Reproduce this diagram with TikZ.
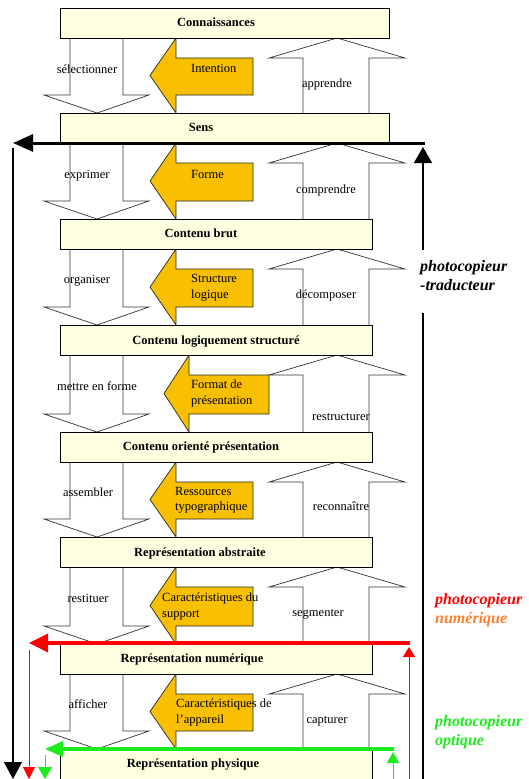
\documentclass[tikz,border=0pt]{standalone}
\usepackage{fontspec}
\setmainfont{Liberation Serif}
\usetikzlibrary{arrows.meta}
\definecolor{boxfill}{RGB}{255,255,226}
\definecolor{yel}{RGB}{248,192,0}
\definecolor{myred}{RGB}{255,0,0}
\definecolor{myorange}{RGB}{255,128,48}
\definecolor{mygreen}{RGB}{30,235,30}
\begin{document}
\begin{tikzpicture}[x=1pt,y=-1pt,
  levelbox/.style={draw=black, line width=0.8pt, fill=boxfill, inner sep=0pt, anchor=north west, minimum height=30pt},
  blockarrow/.style={draw=black!80, line width=0.7pt, fill=white, line join=miter},
  yarrow/.style={draw=black!85, line width=0.7pt, fill=yel},
  boxlabel/.style={font=\fontsize{12.5}{14}\selectfont\bfseries, inner sep=0pt, text height=9pt, text depth=3pt},
  lbl/.style={font=\fontsize{12.5}{14}\selectfont, inner sep=0pt, text height=9pt, text depth=3pt},
  ylbl/.style={lbl, anchor=west},
  sidelbl/.style={font=\fontsize{16}{18}\selectfont\bfseries\itshape, inner sep=0pt, anchor=west, text height=11pt, text depth=4pt},
]
\useasboundingbox (0,0) rectangle (529,779);

% white block arrows (down and up)
\foreach \b/\t in {38/113,143/219,249/325,355/432,462/537,567/644,674/749}{
  \draw[blockarrow] (70,\b) -- (70,{\t-18}) -- (44,{\t-18}) -- (97,\t) -- (149,{\t-18}) -- (123,{\t-18}) -- (123,\b);
  \draw[blockarrow] (303,\t) -- (303,{\b+20}) -- (269,{\b+20}) -- (337,\b) -- (405,{\b+20}) -- (369,{\b+20}) -- (369,\t);
}
% yellow arrows
\foreach \b/\t/\tx/\bx/\ex in {38/113/150/176/253,143/219/150/176/253,249/325/150/176/253,355/432/164/189/269,462/537/150/176/253,567/644/150/176/253,674/749/150/176/253}{
  \draw[yarrow] (\ex,{\b+20}) -- (\bx,{\b+20}) -- (\bx,\b) -- (\tx,{(\b+\t)/2}) -- (\bx,\t) -- (\bx,{\t-18}) -- (\ex,{\t-18}) -- cycle;
}

% level boxes
\node[levelbox, minimum width=329pt] (b1) at (60,8) {};
\node[levelbox, minimum width=329pt] (b2) at (60,113) {};
\node[levelbox, minimum width=312pt] (b3) at (60,219) {};
\node[levelbox, minimum width=312pt] (b4) at (60,325) {};
\node[levelbox, minimum width=312pt] (b5) at (60,432) {};
\node[levelbox, minimum width=312pt] (b6) at (60,537) {};
\node[levelbox, minimum width=312pt] (b7) at (60,644) {};
\node[levelbox, minimum width=312pt, minimum height=36pt] (b8) at (60,749) {};

\node[boxlabel] (t1) at (216,23) {Connaissances};
\node[boxlabel] (t2) at (201,128) {Sens};
\node[boxlabel] (t3) at (201,234) {Contenu brut};
\node[boxlabel] (t4) at (216,341) {Contenu logiquement structuré};
\node[boxlabel] (t5) at (201,447) {Contenu orienté présentation};
\node[boxlabel] (t6) at (200,553) {Représentation abstraite};
\node[boxlabel] (t7) at (192,659) {Représentation numérique};
\node[boxlabel] (t8) at (193,764) {Représentation physique};

% down arrow labels
\node[lbl] (d1) at (87,70) {sélectionner};
\node[lbl] (d2) at (87,175) {exprimer};
\node[lbl] (d3) at (87,280) {organiser};
\node[lbl] (d4) at (97,387) {mettre en forme};
\node[lbl] (d5) at (88,493) {assembler};
\node[lbl] (d6) at (88,599) {restituer};
\node[lbl] (d7) at (88,705) {afficher};

% up arrow labels
\node[lbl] (u1) at (327,84) {apprendre};
\node[lbl] (u2) at (326,190) {comprendre};
\node[lbl] (u3) at (326,295) {décomposer};
\node[lbl] (u4) at (341,417) {restructurer};
\node[lbl] (u5) at (341,507) {reconnaître};
\node[lbl] (u6) at (318,613) {segmenter};
\node[lbl] (u7) at (327,720) {capturer};

% yellow arrow labels
\node[ylbl] (y1) at (191,69) {Intention};
\node[ylbl] (y2) at (191,175) {Forme};
\node[ylbl] (y3a) at (191,279) {Structure};
\node[ylbl] (y3b) at (191,295) {logique};
\node[ylbl] (y4a) at (191,385) {Format de};
\node[ylbl] (y4b) at (191,401) {présentation};
\node[ylbl] (y5a) at (175,492) {Ressources};
\node[ylbl] (y5b) at (175,507) {typographique};
\node[ylbl] (y6a) at (162,598) {Caractéristiques du};
\node[ylbl] (y6b) at (162,614) {support};
\node[ylbl] (y7a) at (176,704) {Caractéristiques de};
\node[ylbl] (y7b) at (176,720) {l’appareil};

% black loop (photocopieur-traducteur)
\coordinate (BR) at (423,782);
\coordinate (BG1) at (423,313);
\coordinate (BG2) at (423,250);
\coordinate (BT) at (423,147);
\coordinate (BH) at (424.5,143);
\coordinate (BL) at (13,143);
\coordinate (BS) at (13,148);
\coordinate (BB) at (13,779);
\draw[line width=1.5pt] (BR) -- (BG1);
\draw[line width=1.5pt, -{Triangle[length=16pt,width=18pt]}] (BG2) -- (BT);
\draw[line width=3pt, -{Triangle[length=20pt,width=17pt]}] (BH) -- (BL);
\draw[line width=1.5pt, -{Triangle[length=17pt,width=18pt]}] (BS) -- (BB);

% red loop (photocopieur numerique)
\coordinate (RR) at (409,782);
\coordinate (RT) at (409,647);
\coordinate (RH) at (410,643);
\coordinate (RL) at (29,643);
\coordinate (RS) at (29,650);
\coordinate (RB) at (29,779);
\draw[myred, line width=1pt, -{Triangle[length=10pt,width=12pt]}] (RR) -- (RT);
\draw[myred, line width=3.5pt, -{Triangle[length=19pt,width=18pt]}] (RH) -- (RL);
\draw[myred, line width=1pt, -{Triangle[length=12pt,width=12pt]}] (RS) -- (RB);

% green loop (photocopieur optique)
\coordinate (GR) at (393,782);
\coordinate (GT) at (393,752);
\coordinate (GH) at (394,749);
\coordinate (GL) at (45,749);
\coordinate (GS) at (45,755);
\coordinate (GB) at (45,779);
\draw[mygreen, line width=1pt, -{Triangle[length=11pt,width=12pt]}] (GR) -- (GT);
\draw[mygreen, line width=3.5pt, -{Triangle[length=18pt,width=15pt]}] (GH) -- (GL);
\draw[mygreen, line width=1pt, -{Triangle[length=12pt,width=14pt]}] (GS) -- (GB);

% side labels
\node[sidelbl] (s1) at (420,268) {photocopieur};
\node[sidelbl] (s2) at (420,287) {-traducteur};
\node[sidelbl, text=myred] (s3) at (435,601) {photocopieur};
\node[sidelbl, text=myorange] (s4) at (435,620) {numérique};
\node[sidelbl, text=mygreen] (s5) at (435,723) {photocopieur};
\node[sidelbl, text=mygreen] (s6) at (435,742) {optique};
\end{tikzpicture}
\end{document}
